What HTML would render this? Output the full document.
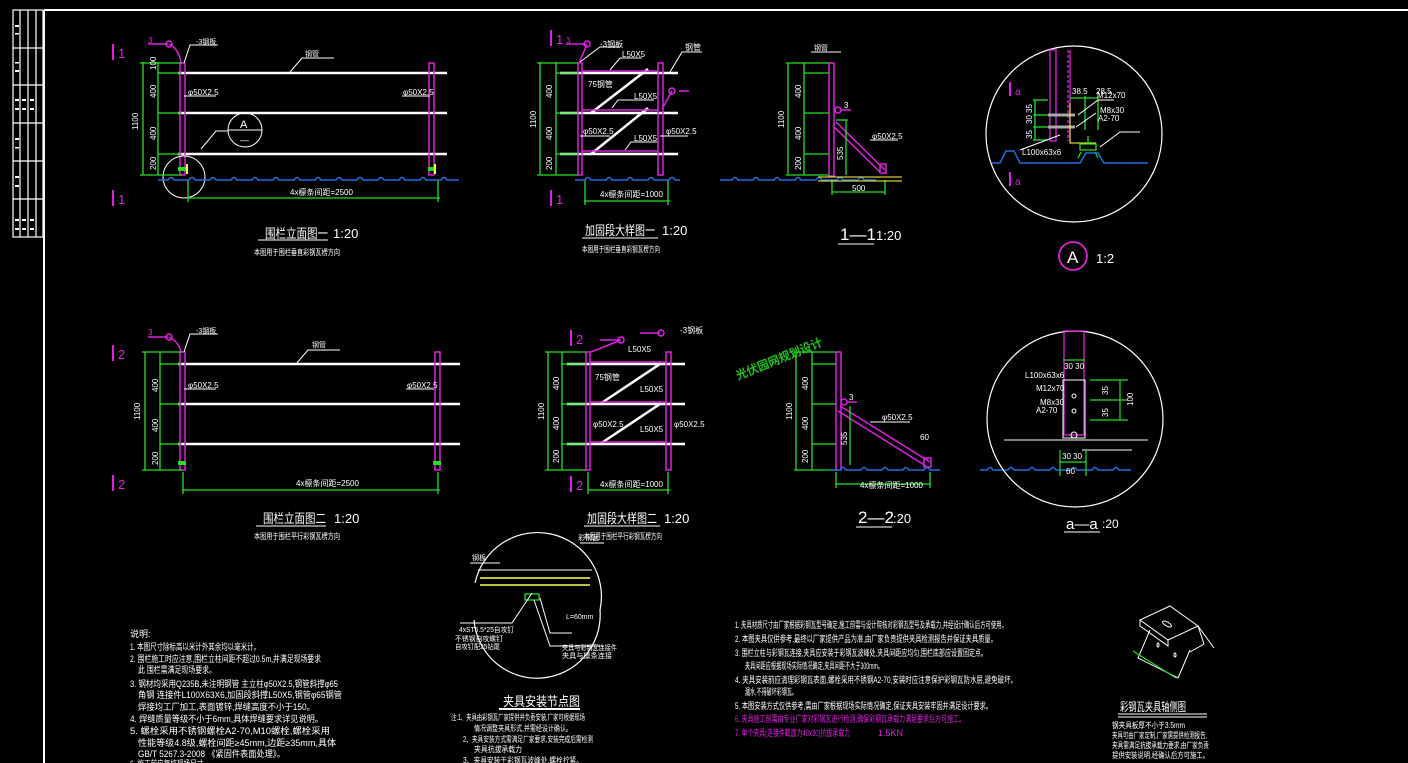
<!DOCTYPE html>
<html><head><meta charset="utf-8"><style>
html,body{margin:0;padding:0;background:#000;width:1408px;height:763px;overflow:hidden}
svg{display:block}
text{font-family:"Liberation Sans","Noto Sans CJK SC",sans-serif}
</style></head><body>
<svg width="1408" height="763" viewBox="0 0 1408 763" xmlns="http://www.w3.org/2000/svg">
<defs>
<g id="ground" stroke="#1e6fe0" stroke-width="1.5" fill="none">
<path d="M0 0 h10 q3 -5 6 0 h15 q3 -5 6 0 h15 q3 -5 6 0 h15 q3 -5 6 0 h15 q3 -5 6 0 h15 q3 -5 6 0 h15 q3 -5 6 0 h15 q3 -5 6 0 h15 q3 -5 6 0 h15 q3 -5 6 0 h15 q3 -5 6 0 h15 q3 -5 6 0 h15 q3 -5 6 0 h15 q3 -5 6 0 h12"/>
</g>
</defs>
<!-- frame -->
<g stroke="#fff" fill="none" stroke-width="1.2">
<line x1="44" y1="10" x2="1408" y2="10" stroke-width="2"/>
<line x1="44" y1="10" x2="44" y2="763" stroke-width="2"/>
<rect x="13" y="10" width="30" height="227"/>
<line x1="20" y1="10" x2="20" y2="237"/><line x1="28" y1="10" x2="28" y2="237"/><line x1="36" y1="10" x2="36" y2="237"/>
<line x1="13" y1="48" x2="43" y2="48"/><line x1="13" y1="85" x2="43" y2="85"/><line x1="13" y1="123" x2="43" y2="123"/><line x1="13" y1="161" x2="43" y2="161"/><line x1="13" y1="199" x2="43" y2="199"/>
</g>
<g fill="#fff">
<rect x="15" y="25" width="4" height="2"/><rect x="15" y="33" width="4" height="1.5"/><rect x="15" y="62" width="4" height="1.5"/><rect x="15" y="70" width="4" height="2"/><rect x="15" y="99" width="4" height="2"/><rect x="22" y="99" width="4" height="2"/><rect x="30" y="99" width="4" height="2"/><rect x="15" y="108" width="4" height="2"/><rect x="22" y="108" width="4" height="2"/><rect x="30" y="108" width="4" height="2"/><rect x="15" y="138" width="4" height="2"/><rect x="15" y="147" width="4" height="1.5"/><rect x="15" y="176" width="4" height="2"/><rect x="15" y="185" width="4" height="2"/><rect x="15" y="219" width="4" height="2"/><rect x="22" y="219" width="4" height="2"/><rect x="30" y="219" width="4" height="2"/><rect x="15" y="228" width="4" height="2"/><rect x="22" y="228" width="4" height="2"/><rect x="30" y="228" width="4" height="2"/>
</g>

<!-- ========== Elevation 1 ========== -->
<g>
<g stroke="#e020e0" stroke-width="2"><line x1="113" y1="44" x2="113" y2="60"/><line x1="113" y1="190" x2="113" y2="206"/></g>
<text x="118" y="58" fill="#e020e0" font-size="13">1</text><text x="118" y="204" fill="#e020e0" font-size="13">1</text>
<g stroke="#fff" stroke-width="2.5"><line x1="178" y1="73" x2="447" y2="73"/><line x1="178" y1="113" x2="447" y2="113"/><line x1="178" y1="154" x2="447" y2="154"/></g>
<g stroke="#e020e0" stroke-width="1.5" fill="none"><rect x="180" y="63" width="5" height="112"/><rect x="429" y="63" width="5" height="112"/>
<path d="M148 44 h20" /><circle cx="169" cy="44" r="3"/><path d="M169 44 q10 5 12 19"/></g>
<text x="148" y="43" fill="#e020e0" font-size="8">3</text>
<g stroke="#fff" stroke-width="1" fill="none"><path d="M184 63 l6 -18 h28"/><path d="M290 72 l12 -14 h32"/><path d="M184 96 h32"/><path d="M402 96 h28"/><circle cx="245" cy="130" r="17"/><line x1="228" y1="130" x2="262" y2="130"/><path d="M228 131 h-12 l-15 18"/><circle cx="184" cy="177" r="21"/></g>
<text x="196" y="44" fill="#fff" font-size="7">-3钢板</text><text x="305" y="56" fill="#fff" font-size="7">钢管</text>
<text x="188" y="95" fill="#fff" font-size="8">φ50X2.5</text><text x="403" y="95" fill="#fff" font-size="8">φ50X2.5</text>
<text x="240" y="128" fill="#fff" font-size="11">A</text><text x="240" y="143" fill="#fff" font-size="9">—</text>
<g stroke="#22e022" stroke-width="1.3" fill="none"><line x1="143" y1="62" x2="143" y2="175"/><line x1="140" y1="63" x2="182" y2="63"/><line x1="140" y1="175" x2="182" y2="175"/><line x1="158" y1="73" x2="182" y2="73"/><line x1="158" y1="113" x2="182" y2="113"/><line x1="158" y1="154" x2="182" y2="154"/><line x1="158" y1="62" x2="158" y2="175"/><line x1="188" y1="198" x2="440" y2="198"/><line x1="188" y1="180" x2="188" y2="202"/><line x1="438" y1="180" x2="438" y2="202"/></g>
<g fill="#22e022"><rect x="178" y="167" width="8" height="4"/><rect x="428" y="167" width="8" height="4"/></g>
<g fill="#ffff40"><rect x="186" y="164" width="2" height="10"/><rect x="434" y="164" width="2" height="10"/></g>
<g fill="#fff" font-size="8"><text x="138" y="130" transform="rotate(-90 138 130)">1100</text><text x="156" y="70" transform="rotate(-90 156 70)">100</text><text x="156" y="98" transform="rotate(-90 156 98)">400</text><text x="156" y="140" transform="rotate(-90 156 140)">400</text><text x="156" y="170" transform="rotate(-90 156 170)">200</text><text x="290" y="195">4x檩条间距=2500</text></g>
<use href="#ground" x="158" y="180"/>
<text x="265" y="238" fill="#fff" font-size="13" textLength="63" lengthAdjust="spacingAndGlyphs">围栏立面图一</text><line x1="258" y1="240" x2="328" y2="240" stroke="#fff"/>
<text x="333" y="238" fill="#fff" font-size="13">1:20</text>
<text x="254" y="255" fill="#fff" font-size="8" textLength="86" lengthAdjust="spacingAndGlyphs">本图用于围栏垂直彩钢瓦楞方向</text>
</g>

<!-- ========== Elevation 2 ========== -->
<g>
<g stroke="#e020e0" stroke-width="2"><line x1="113" y1="345" x2="113" y2="361"/><line x1="113" y1="475" x2="113" y2="491"/></g>
<text x="118" y="359" fill="#e020e0" font-size="13">2</text><text x="118" y="489" fill="#e020e0" font-size="13">2</text>
<g stroke="#fff" stroke-width="2.5"><line x1="178" y1="364" x2="460" y2="364"/><line x1="178" y1="404" x2="460" y2="404"/><line x1="178" y1="444" x2="460" y2="444"/></g>
<g stroke="#e020e0" stroke-width="1.5" fill="none"><rect x="180" y="352" width="5" height="118"/><rect x="435" y="352" width="5" height="118"/>
<path d="M148 337 h20"/><circle cx="169" cy="337" r="3"/><path d="M169 337 q10 5 12 15"/></g>
<text x="148" y="335" fill="#e020e0" font-size="8">3</text>
<g stroke="#fff" stroke-width="1" fill="none"><path d="M184 352 l6 -18 h28"/><path d="M296 364 l12 -14 h32"/><path d="M184 389 h32"/><path d="M406 389 h28"/></g>
<text x="196" y="333" fill="#fff" font-size="7">-3钢板</text><text x="312" y="347" fill="#fff" font-size="7">钢管</text>
<text x="188" y="388" fill="#fff" font-size="8">φ50X2.5</text><text x="407" y="388" fill="#fff" font-size="8">φ50X2.5</text>
<g stroke="#22e022" stroke-width="1.3" fill="none"><line x1="145" y1="352" x2="145" y2="470"/><line x1="142" y1="352" x2="182" y2="352"/><line x1="142" y1="470" x2="182" y2="470"/><line x1="160" y1="364" x2="182" y2="364"/><line x1="160" y1="404" x2="182" y2="404"/><line x1="160" y1="444" x2="182" y2="444"/><line x1="160" y1="352" x2="160" y2="470"/><line x1="182" y1="490" x2="440" y2="490"/><line x1="183" y1="472" x2="183" y2="494"/><line x1="438" y1="472" x2="438" y2="494"/></g>
<g fill="#22e022"><rect x="178" y="461" width="8" height="4"/><rect x="433" y="461" width="8" height="4"/></g>
<g fill="#fff" font-size="8"><text x="140" y="420" transform="rotate(-90 140 420)">1100</text><text x="158" y="392" transform="rotate(-90 158 392)">400</text><text x="158" y="432" transform="rotate(-90 158 432)">400</text><text x="158" y="465" transform="rotate(-90 158 465)">200</text><text x="296" y="486">4x檩条间距=2500</text></g>
<text x="263" y="523" fill="#fff" font-size="13" textLength="63" lengthAdjust="spacingAndGlyphs">围栏立面图二</text><line x1="256" y1="526" x2="326" y2="526" stroke="#fff"/>
<text x="334" y="523" fill="#fff" font-size="13">1:20</text>
<text x="254" y="539" fill="#fff" font-size="8" textLength="86" lengthAdjust="spacingAndGlyphs">本图用于围栏平行彩钢瓦楞方向</text>
</g>

<!-- ========== Detail 1 ========== -->
<g>
<g stroke="#e020e0" stroke-width="2"><line x1="551" y1="30" x2="551" y2="46"/><line x1="551" y1="190" x2="551" y2="206"/></g>
<text x="556" y="44" fill="#e020e0" font-size="13">1</text><text x="556" y="204" fill="#e020e0" font-size="13">1</text>
<g stroke="#fff" stroke-width="2.5"><line x1="560" y1="73" x2="678" y2="73"/><line x1="560" y1="113" x2="678" y2="113"/><line x1="560" y1="154" x2="678" y2="154"/><line x1="591" y1="113" x2="648" y2="69"/><line x1="591" y1="154" x2="648" y2="108"/></g>
<g stroke="#e020e0" stroke-width="1.5" fill="none"><rect x="578" y="63" width="4" height="112"/><rect x="658" y="63" width="5" height="112"/><line x1="582" y1="71" x2="658" y2="71"/><line x1="582" y1="110" x2="658" y2="110"/><line x1="582" y1="151" x2="658" y2="151"/><path d="M566 44 h20"/><circle cx="587" cy="44" r="3"/><path d="M587 44 q-4 10 -8 19"/><path d="M679 91 h10"/><circle cx="672" cy="91" r="3"/><path d="M672 91 l-10 18"/></g>
<text x="566" y="43" fill="#e020e0" font-size="8">3</text>
<g stroke="#fff" stroke-width="1" fill="none"><path d="M580 62 l20 -15 h20"/><path d="M610 70 l10 -12 h22"/><path d="M670 72 l12 -20 h20"/><path d="M612 108 l6 -8 h36"/><path d="M625 150 l6 -8 h26"/><path d="M580 136 h30"/><path d="M660 136 h28"/></g>
<g fill="#fff" font-size="8"><text x="600" y="47">-3钢板</text><text x="622" y="57">L50X5</text><text x="685" y="50">钢管</text><text x="588" y="87">75钢管</text><text x="634" y="99">L50X5</text><text x="583" y="134">φ50X2.5</text><text x="666" y="134">φ50X2.5</text><text x="634" y="141">L50X5</text><text x="600" y="197">4x檩条间距=1000</text></g>
<g stroke="#22e022" stroke-width="1.3" fill="none"><line x1="540" y1="62" x2="540" y2="175"/><line x1="537" y1="63" x2="578" y2="63"/><line x1="537" y1="175" x2="578" y2="175"/><line x1="556" y1="73" x2="578" y2="73"/><line x1="556" y1="113" x2="578" y2="113"/><line x1="556" y1="154" x2="578" y2="154"/><line x1="556" y1="62" x2="556" y2="175"/><line x1="584" y1="201" x2="670" y2="201"/><line x1="585" y1="180" x2="585" y2="205"/><line x1="668" y1="180" x2="668" y2="205"/></g>
<g fill="#fff" font-size="8"><text x="536" y="128" transform="rotate(-90 536 128)">1100</text><text x="552" y="98" transform="rotate(-90 552 98)">400</text><text x="552" y="140" transform="rotate(-90 552 140)">400</text><text x="552" y="170" transform="rotate(-90 552 170)">200</text></g>
<use href="#ground" x="575" y="180" />
<rect x="680" y="170" width="40" height="14" fill="#000"/>
<text x="585" y="235" fill="#fff" font-size="13" textLength="70" lengthAdjust="spacingAndGlyphs">加固段大样图一</text><line x1="582" y1="238" x2="658" y2="238" stroke="#fff"/>
<text x="662" y="235" fill="#fff" font-size="13">1:20</text>
<text x="582" y="252" fill="#fff" font-size="8" textLength="78" lengthAdjust="spacingAndGlyphs">本图用于围栏垂直彩钢瓦楞方向</text>
</g>

<!-- ========== Detail 2 ========== -->
<g>
<g stroke="#e020e0" stroke-width="2"><line x1="571" y1="330" x2="571" y2="346"/><line x1="571" y1="476" x2="571" y2="492"/></g>
<text x="576" y="344" fill="#e020e0" font-size="13">2</text><text x="576" y="490" fill="#e020e0" font-size="13">2</text>
<g stroke="#fff" stroke-width="2.5"><line x1="567" y1="364" x2="685" y2="364"/><line x1="567" y1="404" x2="685" y2="404"/><line x1="567" y1="444" x2="685" y2="444"/><line x1="600" y1="404" x2="660" y2="364"/><line x1="600" y1="444" x2="660" y2="404"/></g>
<g stroke="#e020e0" stroke-width="1.5" fill="none"><rect x="586" y="352" width="4" height="118"/><rect x="666" y="352" width="5" height="118"/><line x1="590" y1="362" x2="666" y2="362"/><line x1="590" y1="402" x2="666" y2="402"/><line x1="590" y1="442" x2="666" y2="442"/><path d="M600 340 h20"/><circle cx="621" cy="340" r="3"/><path d="M621 340 l-30 12"/><path d="M640 333 h20"/><circle cx="661" cy="333" r="3"/></g>
<g fill="#fff" font-size="8"><text x="628" y="352">L50X5</text><text x="680" y="333">-3钢板</text><text x="595" y="380">75钢管</text><text x="640" y="392">L50X5</text><text x="593" y="427">φ50X2.5</text><text x="674" y="427">φ50X2.5</text><text x="640" y="432">L50X5</text><text x="600" y="487">4x檩条间距=1000</text></g>
<g stroke="#22e022" stroke-width="1.3" fill="none"><line x1="548" y1="352" x2="548" y2="470"/><line x1="545" y1="352" x2="586" y2="352"/><line x1="545" y1="470" x2="586" y2="470"/><line x1="562" y1="364" x2="586" y2="364"/><line x1="562" y1="404" x2="586" y2="404"/><line x1="562" y1="444" x2="586" y2="444"/><line x1="562" y1="352" x2="562" y2="470"/><line x1="588" y1="490" x2="670" y2="490"/><line x1="588" y1="472" x2="588" y2="494"/><line x1="668" y1="472" x2="668" y2="494"/></g>
<g fill="#fff" font-size="8"><text x="544" y="420" transform="rotate(-90 544 420)">1100</text><text x="559" y="390" transform="rotate(-90 559 390)">400</text><text x="559" y="430" transform="rotate(-90 559 430)">400</text><text x="559" y="463" transform="rotate(-90 559 463)">200</text></g>
<text x="587" y="523" fill="#fff" font-size="13" textLength="70" lengthAdjust="spacingAndGlyphs">加固段大样图二</text><line x1="584" y1="526" x2="660" y2="526" stroke="#fff"/>
<text x="664" y="523" fill="#fff" font-size="13">1:20</text>
<text x="584" y="539" fill="#fff" font-size="8" textLength="78" lengthAdjust="spacingAndGlyphs">本图用于围栏平行彩钢瓦楞方向</text>
</g>

<!-- ========== Section 1-1 ========== -->
<g>
<g stroke="#e020e0" stroke-width="1.5" fill="none"><rect x="829" y="63" width="5" height="113"/><line x1="836" y1="122" x2="885" y2="170"/><line x1="833" y1="126" x2="880" y2="172"/><rect x="880" y="164" width="6" height="9"/><circle cx="838" cy="110" r="3"/><path d="M841 110 h10"/></g>
<text x="844" y="108" fill="#fff" font-size="8">3</text>
<g stroke="#fff" stroke-width="1" fill="none"><path d="M811 52 h30"/><path d="M870 140 h28"/></g>
<text x="814" y="50" fill="#fff" font-size="7">钢管</text><text x="872" y="139" fill="#fff" font-size="8">φ50X2.5</text>
<g stroke="#22e022" stroke-width="1.3" fill="none"><line x1="788" y1="63" x2="788" y2="175"/><line x1="786" y1="63" x2="829" y2="63"/><line x1="786" y1="175" x2="829" y2="175"/><line x1="804" y1="73" x2="829" y2="73"/><line x1="804" y1="113" x2="829" y2="113"/><line x1="804" y1="154" x2="829" y2="154"/><line x1="804" y1="63" x2="804" y2="175"/><line x1="846" y1="120" x2="846" y2="175"/><line x1="836" y1="120" x2="848" y2="120"/><line x1="832" y1="192" x2="885" y2="192"/><line x1="832" y1="180" x2="832" y2="195"/><line x1="885" y1="180" x2="885" y2="195"/></g>
<g stroke="#ffff40" stroke-width="1"><line x1="818" y1="177" x2="902" y2="177"/><line x1="818" y1="181" x2="902" y2="181"/></g>
<g fill="#fff" font-size="8"><text x="784" y="128" transform="rotate(-90 784 128)">1100</text><text x="801" y="98" transform="rotate(-90 801 98)">400</text><text x="801" y="140" transform="rotate(-90 801 140)">400</text><text x="801" y="170" transform="rotate(-90 801 170)">200</text><text x="843" y="160" transform="rotate(-90 843 160)">535</text><text x="852" y="191">500</text></g>
<text x="840" y="240" fill="#fff" font-size="17">1—1</text><line x1="838" y1="244" x2="874" y2="244" stroke="#fff"/>
<text x="876" y="240" fill="#fff" font-size="13">1:20</text>
</g>

<!-- ========== Section 2-2 ========== -->
<g>
<g stroke="#e020e0" stroke-width="1.5" fill="none"><rect x="836" y="352" width="5" height="118"/><line x1="840" y1="406" x2="930" y2="462"/><line x1="838" y1="411" x2="926" y2="466"/><rect x="924" y="458" width="7" height="9"/><circle cx="844" cy="402" r="3"/><path d="M847 402 h10"/></g>
<text x="849" y="400" fill="#fff" font-size="8">3</text>
<g stroke="#fff" stroke-width="1" fill="none"><path d="M870 422 h40"/></g>
<text x="882" y="420" fill="#fff" font-size="8">φ50X2.5</text>
<g stroke="#22e022" stroke-width="1.3" fill="none"><line x1="796" y1="352" x2="796" y2="470"/><line x1="794" y1="352" x2="836" y2="352"/><line x1="794" y1="470" x2="836" y2="470"/><line x1="812" y1="364" x2="836" y2="364"/><line x1="812" y1="404" x2="836" y2="404"/><line x1="812" y1="444" x2="836" y2="444"/><line x1="812" y1="352" x2="812" y2="470"/><line x1="836" y1="484" x2="930" y2="484"/><line x1="836" y1="472" x2="836" y2="488"/><line x1="930" y1="472" x2="930" y2="488"/><line x1="850" y1="406" x2="850" y2="465"/></g>
<g fill="#fff" font-size="8"><text x="792" y="420" transform="rotate(-90 792 420)">1100</text><text x="808" y="390" transform="rotate(-90 808 390)">400</text><text x="808" y="430" transform="rotate(-90 808 430)">400</text><text x="808" y="463" transform="rotate(-90 808 463)">200</text><text x="847" y="445" transform="rotate(-90 847 445)">535</text><text x="920" y="440">60</text><text x="860" y="488">4x檩条间距=1000</text></g>
<use href="#ground" x="830" y="470"/>
<rect x="940" y="460" width="40" height="14" fill="#000"/>
<text x="858" y="523" fill="#fff" font-size="17">2—2</text><line x1="856" y1="527" x2="892" y2="527" stroke="#fff"/>
<text x="893" y="523" fill="#fff" font-size="13">:20</text>
<text x="738" y="380" fill="#22c022" font-size="12" font-weight="bold" transform="rotate(-22 738 380)" textLength="92" lengthAdjust="spacingAndGlyphs">光伏园网规划设计</text>
</g>

<!-- ========== Circle A ========== -->
<g>
<circle cx="1074" cy="134" r="88" stroke="#fff" fill="none" stroke-width="1.2"/>
<g stroke="#e020e0" stroke-width="1.3" fill="none"><rect x="1050" y="50" width="6" height="91"/><line x1="1068" y1="50" x2="1068" y2="141" stroke-dasharray="3 2"/><line x1="1070" y1="50" x2="1070" y2="141"/><line x1="1010" y1="82" x2="1010" y2="96" stroke-width="2"/><line x1="1010" y1="172" x2="1010" y2="186" stroke-width="2"/></g>
<text x="1015" y="95" fill="#e020e0" font-size="10">a</text><text x="1015" y="185" fill="#e020e0" font-size="10">a</text>
<g stroke="#aaa" stroke-width="3"><line x1="1048" y1="115" x2="1075" y2="115"/><line x1="1048" y1="127" x2="1075" y2="127"/></g>
<g stroke="#ffff40" fill="none" stroke-width="1"><path d="M1070 103 v40 h26"/></g>
<g stroke="#22e022" stroke-width="1.3" fill="none"><line x1="1035" y1="100" x2="1035" y2="140"/><line x1="1033" y1="100" x2="1048" y2="100"/><line x1="1033" y1="115" x2="1048" y2="115"/><line x1="1033" y1="127" x2="1048" y2="127"/><line x1="1033" y1="140" x2="1048" y2="140"/><line x1="1070" y1="98" x2="1098" y2="98"/><line x1="1085" y1="96" x2="1085" y2="130"/><line x1="1098" y1="96" x2="1098" y2="130"/><path d="M1080 150 h16 v-6 h-16 z M1088 144 v-8"/><path d="M1081 152 l-3 6 M1095 152 l3 6"/></g>
<g stroke="#1e6fe0" stroke-width="1.5" fill="none"><path d="M992 163 h8 l6 -12 h8 l6 12 h60 l6 -10 h12 l6 10 h44"/></g>
<g stroke="#fff" stroke-width="1" fill="none"><path d="M1078 115 l20 -15 h16"/><path d="M1076 127 l20 -14"/><path d="M1020 150 l40 -15"/><path d="M1100 147 l20 -15 h20"/></g>
<g fill="#fff" font-size="8"><text x="1072" y="94">38.5</text><text x="1096" y="94">28.5</text><text x="1097" y="98">M12x70</text><text x="1100" y="113">M8x30</text><text x="1098" y="121">A2-70</text><text x="1022" y="155">L100x63x6</text><text x="1032" y="113" transform="rotate(-90 1032 113)">35</text><text x="1032" y="124" transform="rotate(-90 1032 124)">30</text><text x="1032" y="139" transform="rotate(-90 1032 139)">35</text></g>
<circle cx="1073" cy="256" r="14" stroke="#e020e0" fill="none" stroke-width="1.8"/>
<text x="1067" y="263" fill="#fff" font-size="17">A</text>
<text x="1096" y="263" fill="#fff" font-size="13">1:2</text>
</g>

<!-- ========== Circle a-a ========== -->
<g>
<circle cx="1075" cy="419" r="88" stroke="#fff" fill="none" stroke-width="1.2"/>
<g stroke="#e020e0" stroke-width="1.3" fill="none"><rect x="1064" y="331" width="20" height="104"/></g>
<g stroke="#fff" stroke-width="1" fill="none"><rect x="1063" y="380" width="22" height="58"/><circle cx="1074" cy="396" r="2"/><circle cx="1074" cy="411" r="2"/><circle cx="1074" cy="435" r="3"/><line x1="1004" y1="440" x2="1148" y2="440"/><path d="M1082 450 h50"/></g>
<g stroke="#22e022" stroke-width="1.2" fill="none"><line x1="1063" y1="360" x2="1085" y2="360"/><line x1="1120" y1="380" x2="1120" y2="420"/><line x1="1090" y1="380" x2="1128" y2="380"/><line x1="1090" y1="400" x2="1128" y2="400"/><line x1="1090" y1="420" x2="1128" y2="420"/><line x1="1060" y1="462" x2="1086" y2="462"/><line x1="1060" y1="450" x2="1060" y2="476"/><line x1="1086" y1="450" x2="1086" y2="476"/></g>
<g fill="#fff" font-size="8"><text x="1064" y="369">30 30</text><text x="1025" y="378">L100x63x6</text><text x="1036" y="391">M12x70</text><text x="1040" y="405">M8x30</text><text x="1036" y="413">A2-70</text><text x="1062" y="459">30 30</text><text x="1066" y="474">60</text><text x="1108" y="395" transform="rotate(-90 1108 395)">35</text><text x="1108" y="417" transform="rotate(-90 1108 417)">35</text><text x="1133" y="406" transform="rotate(-90 1133 406)">100</text></g>
<text x="1066" y="529" fill="#fff" font-size="15">a—a</text><line x1="1064" y1="532" x2="1100" y2="532" stroke="#fff"/>
<text x="1102" y="528" fill="#fff" font-size="12">:20</text>
</g>

<!-- ========== Clamp install detail ========== -->
<g>
<path d="M475 583 A62 62 0 1 1 600 610 A62 62 0 0 1 474 620" stroke="#fff" fill="none" stroke-width="1.2"/>
<g stroke="#ffff40" stroke-width="1.5"><line x1="480" y1="578" x2="590" y2="578"/><line x1="480" y1="585" x2="590" y2="585"/></g>
<g stroke="#22e022" stroke-width="1.3" fill="none"><path d="M525 600 h14 v-6 h-14 z"/></g>
<g stroke="#fff" stroke-width="1" fill="none"><line x1="478" y1="570" x2="592" y2="570"/><path d="M532 593 l-20 30 h-52"/><path d="M540 598 l10 35 h22"/><path d="M534 600 l16 46 h50"/><path d="M470 563 h30"/><path d="M580 543 h24"/></g>
<g fill="#fff" font-size="7"><text x="472" y="560">钢板</text><text x="578" y="540">彩钢瓦</text><text x="459" y="632" textLength="55" lengthAdjust="spacingAndGlyphs">4xST5.5*25自攻钉</text><text x="455" y="641" textLength="48" lengthAdjust="spacingAndGlyphs">不锈钢自攻螺钉</text><text x="455" y="649" textLength="45" lengthAdjust="spacingAndGlyphs">自攻钉配25钻尾</text><text x="566" y="619">L=60mm</text><text x="562" y="650" textLength="55" lengthAdjust="spacingAndGlyphs">夹具与彩钢瓦连接件</text><text x="562" y="658" textLength="50" lengthAdjust="spacingAndGlyphs">夹具与檩条连接</text></g>
<text x="503" y="706" fill="#fff" font-size="13" textLength="77" lengthAdjust="spacingAndGlyphs">夹具安装节点图</text>
<line x1="499" y1="709" x2="580" y2="709" stroke="#fff" stroke-width="2"/>
<g fill="#fff" font-size="8"><text x="451" y="720" textLength="134" lengthAdjust="spacingAndGlyphs">注:1、夹具由彩钢瓦厂家提供并负责安装,厂家可根据现场</text><text x="474" y="731" textLength="98" lengthAdjust="spacingAndGlyphs">情况调整夹具形式,并需经设计确认。</text><text x="463" y="742" textLength="130" lengthAdjust="spacingAndGlyphs">2、夹具安装方式需满足厂家要求,安装完成后需检测</text><text x="474" y="752" textLength="48" lengthAdjust="spacingAndGlyphs">夹具抗拔承载力</text><text x="463" y="763" textLength="120" lengthAdjust="spacingAndGlyphs">3、夹具安装于彩钢瓦波峰处,螺栓拧紧。</text></g>
</g>

<!-- ========== Left notes ========== -->
<g fill="#fff" font-size="9">
<text x="130" y="637">说明:</text>
<text x="130" y="650" textLength="130" lengthAdjust="spacingAndGlyphs">1. 本图尺寸除标高以米计外其余均以毫米计。</text>
<text x="130" y="662" textLength="191" lengthAdjust="spacingAndGlyphs">2. 围栏施工时应注意,围栏立柱间距不超过0.5m,并满足现场要求</text>
<text x="138" y="673" textLength="78" lengthAdjust="spacingAndGlyphs">此 围栏需满足现场要求。</text>
<text x="130" y="687" textLength="208" lengthAdjust="spacingAndGlyphs">3. 钢材均采用Q235B,未注明钢管 主立柱φ50X2.5,钢管斜撑φ65</text>
<text x="138" y="698" textLength="204" lengthAdjust="spacingAndGlyphs">角钢 连接件L100X63X6,加固段斜撑L50X5,钢管φ65钢管</text>
<text x="138" y="710" textLength="177" lengthAdjust="spacingAndGlyphs">焊接均工厂加工,表面镀锌,焊缝高度不小于150。</text>
<text x="130" y="722" textLength="193" lengthAdjust="spacingAndGlyphs">4. 焊缝质量等级不小于6mm,具体焊缝要求详见说明。</text>
<text x="130" y="734" textLength="200" lengthAdjust="spacingAndGlyphs">5. 螺栓采用不锈钢螺栓A2-70,M10螺栓,螺栓采用</text>
<text x="138" y="746" textLength="198" lengthAdjust="spacingAndGlyphs">性能等级4.8级,螺栓间距≥45mm,边距≥35mm,具体</text>
<text x="138" y="757" textLength="147" lengthAdjust="spacingAndGlyphs">GB/T 5267.3-2008 《紧固件表面处理》。</text>
<text x="130" y="767" textLength="80" lengthAdjust="spacingAndGlyphs">6. 施工前应复核现场尺寸。</text>
</g>

<!-- ========== Middle notes ========== -->
<g fill="#fff" font-size="9">
<text x="735" y="628" textLength="272" lengthAdjust="spacingAndGlyphs">1. 夹具材质尺寸由厂家根据彩钢瓦型号确定,施工前需与设计院核对彩钢瓦型号及承载力,并经设计确认后方可使用。</text>
<text x="735" y="642" textLength="262" lengthAdjust="spacingAndGlyphs">2. 本图夹具仅供参考,最终以厂家提供产品为准,由厂家负责提供夹具检测报告并保证夹具质量。</text>
<text x="735" y="656" textLength="252" lengthAdjust="spacingAndGlyphs">3. 围栏立柱与彩钢瓦连接,夹具应安装于彩钢瓦波峰处,夹具间距应均匀,围栏底部应设置固定点。</text>
<text x="745" y="669" textLength="138" lengthAdjust="spacingAndGlyphs">夹具间距应根据现场实际情况确定,夹具间距不大于300mm。</text>
<text x="735" y="683" textLength="282" lengthAdjust="spacingAndGlyphs">4. 夹具安装前应清理彩钢瓦表面,螺栓采用不锈钢A2-70,安装时应注意保护彩钢瓦防水层,避免破坏。</text>
<text x="745" y="695" textLength="52" lengthAdjust="spacingAndGlyphs">漏水,不得破坏彩钢瓦。</text>
<text x="735" y="709" textLength="257" lengthAdjust="spacingAndGlyphs">5. 本图安装方式仅供参考,需由厂家根据现场实际情况确定,保证夹具安装牢固并满足设计要求。</text>
</g>
<g fill="#e020e0" font-size="9">
<text x="735" y="722" textLength="230" lengthAdjust="spacingAndGlyphs">6. 夹具施工前需由专业厂家对彩钢瓦进行检测,确保彩钢瓦承载力满足要求后方可施工。</text>
<text x="735" y="736" textLength="115" lengthAdjust="spacingAndGlyphs">7. 单个夹具(连接件截面为40x30)抗拔承载力</text>
<text x="878" y="736">1.5KN</text>
</g>

<!-- ========== Isometric clamp ========== -->
<g stroke="#fff" stroke-width="1" fill="none">
<path d="M1140 620 l30 -14 l28 20 l-30 14 z"/>
<path d="M1168 640 l0 6 l-28 -20 l0 -6"/>
<path d="M1150 630 l-12 28 l40 20 l12 -28"/>
<path d="M1198 626 l6 18 l-14 8"/>
<path d="M1198 626 l16 22"/>
<ellipse cx="1167" cy="624" rx="5" ry="2" transform="rotate(30 1167 624)"/>
<ellipse cx="1158" cy="645" rx="1" ry="2"/><ellipse cx="1175" cy="655" rx="1" ry="2"/>
</g>
<line x1="1133" y1="651" x2="1176" y2="678" stroke="#22e022" stroke-width="1.2"/>
<text x="1120" y="711" fill="#fff" font-size="12" textLength="66" lengthAdjust="spacingAndGlyphs">彩钢瓦夹具轴侧图</text>
<g stroke="#fff" stroke-width="1"><line x1="1118" y1="714" x2="1207" y2="714"/><line x1="1118" y1="717" x2="1207" y2="717"/></g>
<g fill="#fff" font-size="8"><text x="1112" y="728" textLength="73" lengthAdjust="spacingAndGlyphs">钢夹具板厚不小于3.5mm</text><text x="1112" y="738" textLength="95" lengthAdjust="spacingAndGlyphs">夹具可由厂家定制,厂家需提供检测报告,</text><text x="1112" y="748" textLength="97" lengthAdjust="spacingAndGlyphs">夹具需满足抗拔承载力要求,由厂家负责</text><text x="1112" y="758" textLength="97" lengthAdjust="spacingAndGlyphs">提供安装说明,经确认后方可施工。</text></g>
</svg>
</body></html>
